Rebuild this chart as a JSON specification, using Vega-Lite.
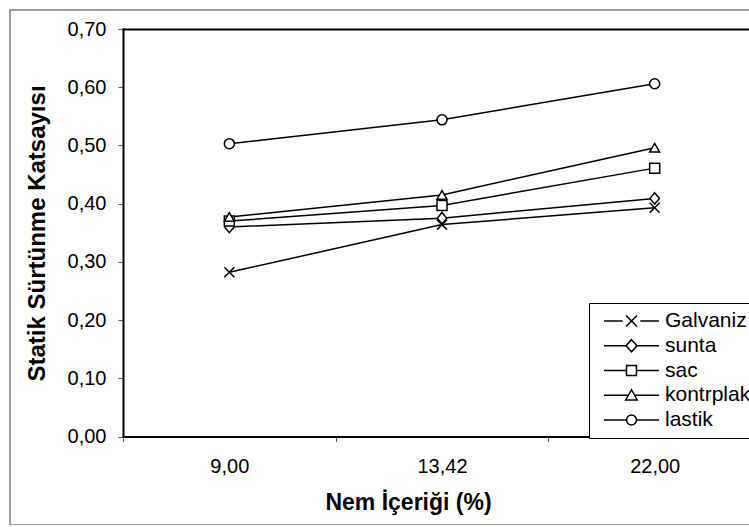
{
  "$schema": "https://vega.github.io/schema/vega-lite/v6.json",
  "width": 741,
  "height": 515,
  "autosize": {"type": "none"},
  "padding": {"left": 10, "top": 10, "right": 0, "bottom": 0},
  "background": "white",
  "config": {
    "view": {"stroke": "#808080", "strokeWidth": 1.5},
    "font": "Liberation Sans",
    "axis": {"grid": false}
  },
  "data": {
    "values": [
      {"nem": "9,00", "seri": "Galvaniz", "katsayi": 0.282},
      {"nem": "13,42", "seri": "Galvaniz", "katsayi": 0.364},
      {"nem": "22,00", "seri": "Galvaniz", "katsayi": 0.393},
      {"nem": "9,00", "seri": "sunta", "katsayi": 0.360},
      {"nem": "13,42", "seri": "sunta", "katsayi": 0.375},
      {"nem": "22,00", "seri": "sunta", "katsayi": 0.409},
      {"nem": "9,00", "seri": "sac", "katsayi": 0.370},
      {"nem": "13,42", "seri": "sac", "katsayi": 0.397},
      {"nem": "22,00", "seri": "sac", "katsayi": 0.461},
      {"nem": "9,00", "seri": "kontrplak", "katsayi": 0.377},
      {"nem": "13,42", "seri": "kontrplak", "katsayi": 0.415},
      {"nem": "22,00", "seri": "kontrplak", "katsayi": 0.496},
      {"nem": "9,00", "seri": "lastik", "katsayi": 0.503},
      {"nem": "13,42", "seri": "lastik", "katsayi": 0.544},
      {"nem": "22,00", "seri": "lastik", "katsayi": 0.606}
    ]
  },
  "encoding": {
    "y": {
      "field": "katsayi",
      "type": "quantitative",
      "scale": {"domain": [0, 0.7], "range": [426.5, 19], "nice": false, "zero": true},
      "axis": {
        "orient": "left",
        "offset": -113,
        "values": [0, 0.1, 0.2, 0.3, 0.4, 0.5, 0.6, 0.7],
        "labelExpr": "replace(format(datum.value, '.2f'), '.', ',')",
        "labelFontSize": 20,
        "labelColor": "black",
        "labelPadding": 12,
        "domainColor": "black",
        "domainWidth": 2,
        "domainCap": "square",
        "tickColor": "#555555",
        "tickSize": 5,
        "tickWidth": 1,
        "title": "Statik Sürtünme Katsayısı",
        "titleFontSize": 24,
        "titleFontWeight": "bold",
        "titleColor": "black",
        "titleX": -85.5,
        "titleY": 223,
        "titleAngle": 270,
        "titleAlign": "center",
        "titleBaseline": "middle"
      }
    }
  },
  "layer": [
    {
      "mark": {"type": "line", "color": "black", "strokeWidth": 1.5},
      "encoding": {
        "x": {
          "field": "nem",
          "type": "ordinal",
          "sort": ["9,00", "13,42", "22,00"],
          "scale": {"range": [113, 751], "paddingInner": 0, "paddingOuter": 0},
          "axis": {
            "orient": "bottom",
            "offset": -88.5,
            "labelAngle": 0,
            "labelFontSize": 20,
            "labelColor": "black",
            "labelPadding": 15,
            "tickBand": "extent",
            "domainColor": "black",
            "domainWidth": 2,
            "domainCap": "square",
            "tickColor": "#555555",
            "tickSize": 5,
            "tickWidth": 1,
            "title": "Nem İçeriği (%)",
            "titleFontSize": 23,
            "titleFontWeight": "bold",
            "titleColor": "black",
            "titleX": 398,
            "titleY": 66,
            "titleAlign": "center",
            "titleBaseline": "middle"
          }
        },
        "detail": {"field": "seri"}
      }
    },
    {
      "mark": {"type": "point", "filled": true, "fill": "white", "stroke": "black", "strokeWidth": 1.5, "size": 100, "opacity": 1},
      "encoding": {
        "x": {
          "field": "nem",
          "type": "ordinal",
          "sort": ["9,00", "13,42", "22,00"],
          "scale": {"range": [113, 751], "paddingInner": 0, "paddingOuter": 0},
          "axis": {
            "orient": "top",
            "offset": -19,
            "labels": false,
            "ticks": false,
            "domainColor": "black",
            "domainWidth": 2,
            "domainCap": "square",
            "title": null
          }
        },
        "shape": {
          "field": "seri",
          "type": "nominal",
          "scale": {
            "domain": ["Galvaniz", "sunta", "sac", "kontrplak", "lastik"],
            "range": ["M-1,-1L1,1M-1,1L1,-1", "M0,-1.15L0.95,0L0,1.15L-0.95,0Z", "square", "triangle-up", "circle"]
          },
          "legend": null
        }
      }
    },
    {
      "mark": {"type": "point", "filled": false, "stroke": "black", "strokeWidth": 1.5, "size": 0, "opacity": 0},
      "encoding": {
        "x": {
          "field": "nem",
          "type": "ordinal",
          "sort": ["9,00", "13,42", "22,00"],
          "scale": {"range": [113, 751], "paddingInner": 0, "paddingOuter": 0},
          "axis": null
        },
        "shape": {
          "field": "seri",
          "type": "nominal",
          "scale": {
            "domain": ["Galvaniz", "sunta", "sac", "kontrplak", "lastik"],
            "range": [
              "M-1,0H-0.32M0.32,0H1M-0.2,-0.2L0.2,0.2M-0.2,0.2L0.2,-0.2",
              "M-1,0H-0.2M0.2,0H1M0,-0.22L0.2,0L0,0.22L-0.2,0Z",
              "M-1,0H-0.18M0.18,0H1M-0.18,-0.18H0.18V0.18H-0.18Z",
              "M-1,0H-0.12M0.12,0H1M0,-0.2L0.21,0.17H-0.21Z",
              "M-1,0H-0.18M0.18,0H1M0.18,0C0.18,0.0994,0.0994,0.18,0,0.18C-0.0994,0.18,-0.18,0.0994,-0.18,0C-0.18,-0.0994,-0.0994,-0.18,0,-0.18C0.0994,-0.18,0.18,-0.0994,0.18,0Z"
            ]
          },
          "legend": {
            "orient": "none",
            "legendX": 579,
            "legendY": 293,
            "title": null,
            "strokeColor": "black",
            "fillColor": "white",
            "padding": 8,
            "symbolSize": 3025,
            "symbolStrokeWidth": 1.5,
            "symbolOffset": 6,
            "clipHeight": 20,
            "rowPadding": 3.75,
            "labelFontSize": 21,
            "labelColor": "black",
            "labelOffset": 5,
            "encode": {
              "symbols": {
                "size": {"value": 3025},
                "fill": {"value": "white"},
                "stroke": {"value": "black"},
                "strokeWidth": {"value": 1.5},
                "opacity": {"value": 1}
              }
            }
          }
        }
      }
    }
  ],
  "resolve": {"axis": {"x": "independent"}, "scale": {"shape": "independent"}, "legend": {"shape": "independent"}}
}
